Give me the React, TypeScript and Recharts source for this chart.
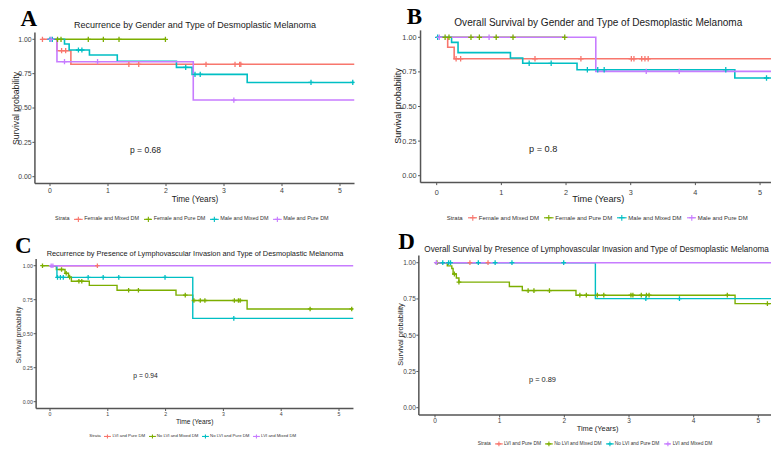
import React from 'react';
import { ComposedChart, Line, Scatter, XAxis, YAxis } from 'recharts';

type Pt = [number, number];

const RED = '#F8766D';
const GREEN = '#7CAE00';
const CYAN = '#00BFC4';
const PURPLE = '#C77CFF';

const xTicks = [0, 1, 2, 3, 4, 5];
const yTicks = [0, 0.25, 0.5, 0.75, 1];

// ---------- Panel A: Recurrence by Gender and Type ----------
const aLabels = ['Female and Mixed DM', 'Female and Pure DM', 'Male and Mixed DM', 'Male and Pure DM'];
const aFemaleMixedSteps: Pt[] = [[-0.14, 1], [0.12, 0.917], [0.36, 0.818], [5.25, 0.818]];
const aFemaleMixedCensor = [-0.13, 0.2, 0.27, 1.36, 1.53, 2.69, 3.19, 3.27, 3.29];
const aFemalePureSteps: Pt[] = [[0.1, 1], [1.99, 1]];
const aFemalePureCensor = [0.13, 0.19, 0.66, 0.92, 1.19, 1.99];
const aMaleMixedSteps: Pt[] = [[-0.03, 1], [0.25, 0.966], [0.33, 0.922], [0.68, 0.886], [1.16, 0.84], [2.18, 0.796], [2.45, 0.745], [3.4, 0.686], [5.25, 0.686]];
const aMaleMixedCensor = [0, 0.04, 0.49, 0.55, 2.34, 2.5, 2.59, 4.5, 5.22];
const aMalePureSteps: Pt[] = [[-0.05, 1], [0.12, 0.837], [2.47, 0.558], [5.25, 0.558]];
const aMalePureCensor = [0.02, 0.25, 0.82, 3.17];

// ---------- Panel B: Overall Survival by Gender and Type ----------
const bLabels = ['Female and Mixed DM', 'Female and Pure DM', 'Male and Mixed DM', 'Male and Pure DM'];
const bFemaleMixedSteps: Pt[] = [[0, 1], [0.17, 0.928], [0.27, 0.845], [5.17, 0.845]];
const bFemaleMixedCensor = [0.3, 0.37, 1.52, 2.23, 3.01, 3.05, 3.17, 3.22, 3.27];
const bFemalePureSteps: Pt[] = [[0, 1], [1.98, 1]];
const bFemalePureCensor = [0.13, 0.19, 0.53, 0.66, 0.92, 1.18, 1.98];
const bMaleMixedSteps: Pt[] = [[0, 1], [0.23, 0.963], [0.33, 0.889], [1.14, 0.85], [1.33, 0.812], [2.17, 0.766], [4.61, 0.706], [5.17, 0.706]];
const bMaleMixedCensor = [0.015, 1.43, 1.77, 2.33, 2.49, 2.59, 4.47, 5.1];
const bMalePureSteps: Pt[] = [[0, 1], [2.46, 0.754], [5.17, 0.754]];
const bMalePureCensor = [0.04, 0.81, 3.24, 3.75];

// ---------- Panel C: Recurrence by LVI and Type ----------
const cLabels = ['LVI and Pure DM', 'No LVI and Mixed DM', 'No LVI and Pure DM', 'LVI and Mixed DM'];
const cLviPureSteps: Pt[] = [[0, 1], [0.82, 1]];
const cLviPureCensor = [0.82];
const cNoLviMixedSteps: Pt[] = [[-0.14, 1], [0.11, 0.972], [0.26, 0.944], [0.32, 0.916], [0.37, 0.886], [0.68, 0.855], [1.16, 0.819], [2.18, 0.784], [2.47, 0.744], [3.41, 0.682], [5.25, 0.682]];
const cNoLviMixedCensor = [-0.13, 0.2, 0.28, 0.34, 0.5, 0.55, 1.36, 1.53, 2.34, 2.49, 2.6, 2.68, 3.19, 3.26, 3.29, 4.5, 5.22];
const cNoLviPureSteps: Pt[] = [[0, 1], [0.12, 0.914], [2.47, 0.613], [5.25, 0.613]];
const cNoLviPureCensor = [0.13, 0.18, 0.23, 0.66, 0.92, 1.19, 1.99, 3.18];
const cLviMixedSteps: Pt[] = [[0, 1], [5.25, 1]];
const cLviMixedCensor = [0.02, 0.05];

// ---------- Panel D: Overall Survival by LVI and Type ----------
const dLabels = ['LVI and Pure DM', 'No LVI and Mixed DM', 'No LVI and Pure DM', 'LVI and Mixed DM'];
const dLviPureSteps: Pt[] = [[0, 1], [0.82, 1]];
const dLviPureCensor = [0.54, 0.82];
const dNoLviMixedSteps: Pt[] = [[0, 1], [0.19, 0.978], [0.26, 0.96], [0.28, 0.922], [0.33, 0.895], [0.37, 0.866], [1.15, 0.836], [1.35, 0.808], [2.18, 0.776], [4.64, 0.718], [5.2, 0.718]];
const dNoLviMixedCensor = [0.03, 0.3, 0.37, 1.44, 1.53, 1.77, 2.24, 2.34, 2.51, 2.61, 3.03, 3.06, 3.19, 3.27, 3.31, 4.52, 5.14];
const dNoLviPureSteps: Pt[] = [[0, 1], [2.48, 0.752], [5.2, 0.752]];
const dNoLviPureCensor = [0.12, 0.21, 0.24, 0.67, 0.93, 1.19, 1.99, 3.26, 3.78];
const dLviMixedSteps: Pt[] = [[0, 1], [5.2, 1]];
const dLviMixedCensor = [0.02];

const colors = [RED, GREEN, CYAN, PURPLE];

function stepValue(steps: Pt[], t: number): number {
  let s = steps[0][1];
  for (const [tt, ss] of steps) if (tt <= t + 1e-9) s = ss;
  return s;
}

function buildSeries(list: [Pt[], number[]][]) {
  return list.map(([steps, cens], i) => ({
    color: colors[i],
    line: steps.map(([t, s]) => ({ t, s })),
    cens: cens.map((t) => ({ t, s: stepValue(steps, t) })),
  }));
}

type Cfg = {
  x0: number; // pixel of t = 0
  ux: number; // pixels per year
  y1: number; // pixel of s = 1
  y0: number; // pixel of s = 0
  xDomain: [number, number];
  tickFont: number;
  xTickMargin: number;
  yTickMargin: number;
  lineW: number;
  arm: number;
  series: ReturnType<typeof buildSeries>;
};

const FONT = '"Liberation Sans", Arial, sans-serif';
const AXIS = '#555';

const plus = (color: string, arm: number) => (props: any) => {
  const { cx, cy } = props;
  if (cx == null || cy == null) return <g />;
  return (
    <path
      d={`M${cx - arm},${cy}H${cx + arm}M${cx},${cy - arm}V${cy + arm}`}
      stroke={color}
      strokeWidth={1.3}
      fill="none"
    />
  );
};

function Panel({ cfg }: { cfg: Cfg }) {
  const W = 771;
  const H = 452;
  const yW = 30;
  const xH = 20;
  const uy = cfg.y0 - cfg.y1;
  const left = cfg.x0 + cfg.xDomain[0] * cfg.ux;
  const right = cfg.x0 + cfg.xDomain[1] * cfg.ux;
  const top = cfg.y1 - 0.05 * uy;
  const bottom = cfg.y0 + 0.05 * uy;
  const margin = { top, left: left - yW, right: W - right, bottom: H - bottom - xH };
  const tick = { fontSize: cfg.tickFont, fill: '#3f3f3f', fontFamily: FONT };
  return (
    <div style={{ position: 'absolute', left: 0, top: 0 }}>
      <ComposedChart width={W} height={H} margin={margin}>
        <XAxis
          type="number"
          dataKey="t"
          domain={cfg.xDomain}
          allowDataOverflow
          ticks={xTicks}
          interval={0}
          height={xH}
          tickSize={2.5}
          tickMargin={cfg.xTickMargin}
          tick={tick}
          axisLine={{ stroke: AXIS, strokeWidth: 1.5 }}
          tickLine={{ stroke: AXIS, strokeWidth: 1 }}
        />
        <YAxis
          type="number"
          dataKey="s"
          domain={[-0.05, 1.05]}
          allowDataOverflow
          ticks={yTicks}
          interval={0}
          width={yW}
          tickSize={2.5}
          tickMargin={cfg.yTickMargin}
          tick={tick}
          tickFormatter={(v: number) => v.toFixed(2)}
          axisLine={{ stroke: AXIS, strokeWidth: 1.5 }}
          tickLine={{ stroke: AXIS, strokeWidth: 1 }}
        />
        {cfg.series.map((s, i) => (
          <Line
            key={'l' + i}
            data={s.line}
            dataKey="s"
            type="stepAfter"
            stroke={s.color}
            strokeWidth={cfg.lineW}
            dot={false}
            activeDot={false}
            isAnimationActive={false}
          />
        ))}
        {cfg.series.map((s, i) => (
          <Scatter
            key={'c' + i}
            data={s.cens}
            dataKey="s"
            shape={plus(s.color, cfg.arm)}
            isAnimationActive={false}
          />
        ))}
      </ComposedChart>
    </div>
  );
}

const cfgA: Cfg = {
  x0: 50, ux: 58, y1: 39.3, y0: 176.7, xDomain: [-0.26, 5.25],
  tickFont: 6.9, xTickMargin: 1.8, yTickMargin: 0.8, lineW: 1.6, arm: 2.6,
  series: buildSeries([
    [aFemaleMixedSteps, aFemaleMixedCensor],
    [aFemalePureSteps, aFemalePureCensor],
    [aMaleMixedSteps, aMaleMixedCensor],
    [aMalePureSteps, aMalePureCensor],
  ]),
};
const cfgB: Cfg = {
  x0: 436.7, ux: 64.67, y1: 37.3, y0: 175.7, xDomain: [-0.25, 5.169],
  tickFont: 7.3, xTickMargin: 4.6, yTickMargin: 1.5, lineW: 1.6, arm: 2.7,
  series: buildSeries([
    [bFemaleMixedSteps, bFemaleMixedCensor],
    [bFemalePureSteps, bFemalePureCensor],
    [bMaleMixedSteps, bMaleMixedCensor],
    [bMalePureSteps, bMalePureCensor],
  ]),
};
const cfgC: Cfg = {
  x0: 50, ux: 57.8, y1: 265.7, y0: 401.7, xDomain: [-0.24, 5.25],
  tickFont: 5.2, xTickMargin: 1.5, yTickMargin: 0.8, lineW: 1.4, arm: 2.3,
  series: buildSeries([
    [cLviPureSteps, cLviPureCensor],
    [cNoLviMixedSteps, cNoLviMixedCensor],
    [cNoLviPureSteps, cNoLviPureCensor],
    [cLviMixedSteps, cLviMixedCensor],
  ]),
};
const cfgD: Cfg = {
  x0: 435, ux: 64.67, y1: 262.7, y0: 407.7, xDomain: [-0.25, 5.196],
  tickFont: 6.5, xTickMargin: 0.5, yTickMargin: 0.5, lineW: 1.4, arm: 2.4,
  series: buildSeries([
    [dLviPureSteps, dLviPureCensor],
    [dNoLviMixedSteps, dNoLviMixedCensor],
    [dNoLviPureSteps, dNoLviPureCensor],
    [dLviMixedSteps, dLviMixedCensor],
  ]),
};

function Legend({ x, y, f, labels }: { x: number; y: number; f: number; labels: string[] }) {
  const k = 1.6 * f;
  return (
    <div
      style={{
        position: 'absolute', left: x, top: y - f, height: 2 * f, display: 'flex', alignItems: 'center',
        fontFamily: FONT, fontSize: f, color: '#333', whiteSpace: 'nowrap', lineHeight: 1,
      }}
    >
      <span>Strata</span>
      {labels.map((lab, i) => (
        <React.Fragment key={lab}>
          <svg width={k} height={k} style={{ marginLeft: 0.86 * f, marginRight: 0.25 * f }}>
            <line x1={0} y1={k / 2} x2={k} y2={k / 2} stroke={colors[i]} strokeWidth={1.1} />
            <path d={`M${k / 2 - k * 0.3},${k / 2}H${k / 2 + k * 0.3}M${k / 2},${k / 2 - k * 0.3}V${k / 2 + k * 0.3}`} stroke={colors[i]} strokeWidth={1.1} />
          </svg>
          <span>{lab}</span>
        </React.Fragment>
      ))}
    </div>
  );
}

function T(props: { x: number; y: number; s: number; w?: number; anchor?: string; rot?: boolean; children: string; fill?: string }) {
  const { x, y, s, w, anchor = 'middle', rot, children, fill = '#1a1a1a' } = props;
  return (
    <text
      transform={rot ? `translate(${x},${y}) rotate(-90)` : `translate(${x},${y})`}
      textAnchor={anchor as any}
      fontSize={s}
      fontFamily={FONT}
      fill={fill}
      textLength={w}
      lengthAdjust="spacingAndGlyphs"
    >
      {children}
    </text>
  );
}

function Letter({ x, y, s, children }: { x: number; y: number; s: number; children: string }) {
  return (
    <text x={x} y={y} fontSize={s} fontWeight="bold" fontFamily='"Liberation Serif", "Times New Roman", serif' fill="#000">
      {children}
    </text>
  );
}

export default function App() {
  return (
    <div style={{ position: 'absolute', left: 0, top: 0, width: 771, height: 452, background: '#fff', overflow: 'hidden' }}>
      <Panel cfg={cfgA} />
      <Panel cfg={cfgB} />
      <Panel cfg={cfgC} />
      <Panel cfg={cfgD} />
      <svg width={771} height={452} style={{ position: 'absolute', left: 0, top: 0, pointerEvents: 'none' }}>
        <Letter x={20.5} y={26} s={23}>A</Letter>
        <Letter x={406.7} y={24} s={23}>B</Letter>
        <Letter x={15} y={253.3} s={23}>C</Letter>
        <Letter x={398.3} y={249} s={23}>D</Letter>

        <T x={195} y={28} s={9.4} w={242}>Recurrence by Gender and Type of Desmoplastic Melanoma</T>
        <T x={598.3} y={26} s={10} w={288}>Overall Survival by Gender and Type of Desmoplastic Melanoma</T>
        <T x={195} y={255.7} s={7.5} w={296.7}>Recurrence by Presence of Lymphovascular Invasion and Type of Desmoplastic Melanoma</T>
        <T x={424.3} y={251.7} s={8.2} w={344.5} anchor="start">Overall Survival by Presence of Lymphovascular Invasion and Type of Desmoplastic Melanoma</T>

        <T x={18.5} y={108.5} s={9.3} w={73} rot>Survival probability</T>
        <T x={400.5} y={106} s={9.3} w={75.7} rot>Survival probability</T>
        <T x={20.7} y={335} s={6.9} w={56.7} rot>Survival probability</T>
        <T x={403.3} y={334.5} s={7.6} w={62.3} rot>Survival probability</T>

        <T x={195} y={202.3} s={9.3} w={46.7}>Time (Years)</T>
        <T x={598.3} y={202.3} s={9.3} w={52}>Time (Years)</T>
        <T x={194.7} y={424.3} s={6.8} w={37.3}>Time (Years)</T>
        <T x={597.5} y={430.7} s={7.4} w={41.7}>Time (Years)</T>

        <T x={145.5} y={153.3} s={8.8} w={31}>p = 0.68</T>
        <T x={543.2} y={152.3} s={9.2} w={28.3}>p = 0.8</T>
        <T x={145.5} y={378.3} s={6.8} w={24.3}>p = 0.94</T>
        <T x={542.5} y={382.3} s={7.6} w={27}>p = 0.89</T>
      </svg>
      <Legend x={55} y={219} f={5.45} labels={aLabels} />
      <Legend x={446.7} y={218.3} f={5.99} labels={bLabels} />
      <Legend x={89.3} y={436} f={4.31} labels={cLabels} />
      <Legend x={477.7} y={444} f={4.89} labels={dLabels} />
    </div>
  );
}
